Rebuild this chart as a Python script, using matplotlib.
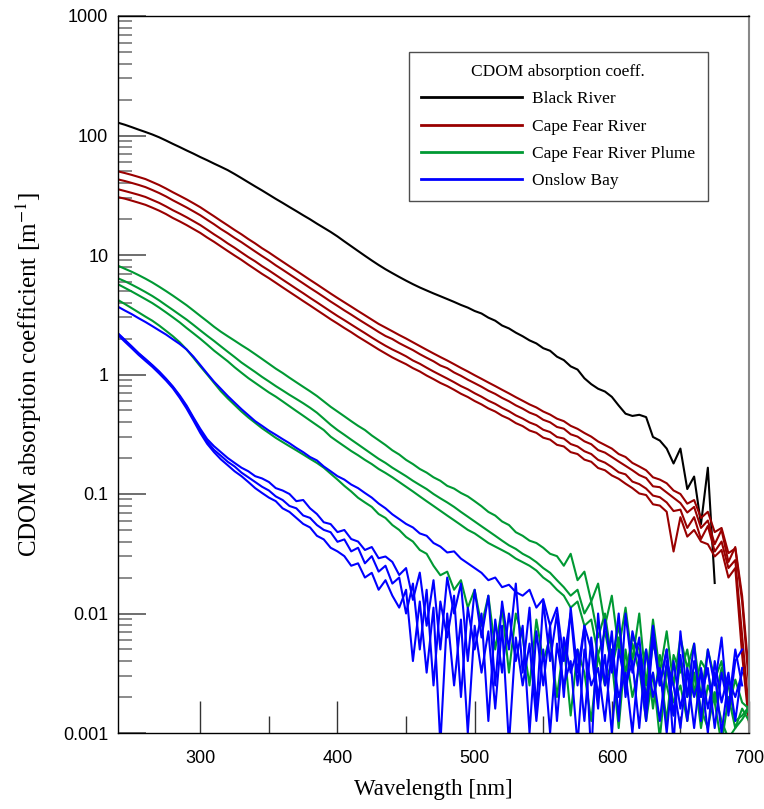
import numpy as np
import matplotlib
matplotlib.use("Agg")
import matplotlib.pyplot as plt
from matplotlib.lines import Line2D
from matplotlib.ticker import LogLocator, FixedLocator, NullFormatter

plt.rcParams['mathtext.fontset'] = 'stix'

# wavelength grid [nm], 5 nm steps
wl = np.arange(240, 701, 5)

# CDOM absorption coefficient [m-1] at 5 nm steps
black_river = [
    128, 123, 117.5, 112, 107, 102, 96.6, 90.8, 85.1, 80,
    75, 70.5, 66, 62.1, 58.2, 54.7, 51.3, 47.6, 44, 40.6,
    37.5, 34.7, 32, 29.5, 27.3, 25.2, 23.3, 21.5, 19.9, 18.3,
    16.9, 15.6, 14.3, 13.0, 11.85, 10.8, 9.85, 9.0, 8.25, 7.6,
    7.05, 6.55, 6.1, 5.7, 5.35, 5.05, 4.77, 4.52, 4.28, 4.05,
    3.82, 3.63, 3.40, 3.24, 2.99, 2.82, 2.57, 2.43, 2.24, 2.09,
    1.93, 1.82, 1.66, 1.58, 1.41, 1.32, 1.17, 1.10, 0.93, 0.83,
    0.76, 0.72, 0.65, 0.55, 0.47, 0.45, 0.46, 0.44, 0.30, 0.28,
    0.24, 0.18, 0.24, 0.11, 0.14, 0.056, 0.166, 0.018,
]

cape_fear_1 = [
    50.1, 48.5, 46.8, 45.0, 43.2, 40.8, 38.5, 36.0, 33.5, 31.3,
    29.2, 27.1, 25.1, 23.0, 21.1, 19.3, 17.7, 16.2, 14.9, 13.6,
    12.5, 11.4, 10.5, 9.6, 8.79, 8.05, 7.38, 6.76, 6.19, 5.68,
    5.20, 4.76, 4.37, 4.02, 3.70, 3.40, 3.13, 2.88, 2.65, 2.47,
    2.30, 2.14, 2.0, 1.86, 1.73, 1.61, 1.50, 1.40, 1.31, 1.22,
    1.135, 1.06, 0.986, 0.92, 0.857, 0.80, 0.745, 0.695, 0.646, 0.603,
    0.562, 0.53, 0.49, 0.462, 0.427, 0.407, 0.372, 0.351, 0.324, 0.302,
    0.275, 0.257, 0.24, 0.216, 0.204, 0.182, 0.17, 0.158, 0.138, 0.132,
    0.123, 0.107, 0.1, 0.083, 0.089, 0.063, 0.071, 0.048, 0.052, 0.032,
    0.035, 0.0126, 0.0025,
]
cape_fear_2 = [
    42.9, 41.6, 40.1, 38.6, 37.0, 35.0, 33.0, 30.9, 28.7, 26.8,
    25.0, 23.2, 21.5, 19.7, 18.1, 16.5, 15.2, 13.9, 12.8, 11.7,
    10.7, 9.8, 9.0, 8.2, 7.53, 6.9, 6.32, 5.79, 5.30, 4.87,
    4.46, 4.08, 3.75, 3.44, 3.17, 2.91, 2.68, 2.47, 2.27, 2.10,
    1.98, 1.83, 1.71, 1.60, 1.48, 1.38, 1.29, 1.19, 1.13, 1.04,
    0.975, 0.905, 0.846, 0.79, 0.732, 0.688, 0.637, 0.597, 0.552, 0.518,
    0.48, 0.456, 0.418, 0.398, 0.364, 0.352, 0.316, 0.302, 0.276, 0.261,
    0.233, 0.222, 0.204, 0.187, 0.172, 0.158, 0.144, 0.136, 0.116, 0.114,
    0.103, 0.093, 0.084, 0.070, 0.078, 0.052, 0.06, 0.038, 0.05, 0.027,
    0.036, 0.014, 0.003,
]
cape_fear_3 = [
    35.5, 34.3, 33.1, 31.9, 30.6, 28.9, 27.3, 25.5, 23.7, 22.2,
    20.7, 19.2, 17.8, 16.3, 14.9, 13.7, 12.5, 11.5, 10.5, 9.6,
    8.85, 8.07, 7.43, 6.8, 6.22, 5.7, 5.22, 4.79, 4.38, 4.02,
    3.68, 3.37, 3.09, 2.85, 2.62, 2.41, 2.22, 2.04, 1.88, 1.74,
    1.62, 1.52, 1.42, 1.31, 1.23, 1.14, 1.06, 0.99, 0.925, 0.862,
    0.80, 0.752, 0.697, 0.652, 0.604, 0.568, 0.526, 0.493, 0.455, 0.428,
    0.397, 0.377, 0.345, 0.33, 0.3, 0.291, 0.262, 0.25, 0.228, 0.216,
    0.193, 0.183, 0.168, 0.152, 0.146, 0.127, 0.121, 0.111, 0.097, 0.094,
    0.085, 0.072, 0.074, 0.052, 0.064, 0.042, 0.054, 0.033, 0.040, 0.024,
    0.028, 0.0065, 0.0015,
]
cape_fear_4 = [
    30.5, 29.6, 28.5, 27.4, 26.3, 24.9, 23.5, 22.0, 20.4, 19.1,
    17.8, 16.5, 15.3, 14.0, 12.9, 11.8, 10.8, 9.9, 9.1, 8.3,
    7.6, 6.95, 6.4, 5.86, 5.36, 4.91, 4.5, 4.12, 3.78, 3.46,
    3.17, 2.9, 2.67, 2.45, 2.26, 2.07, 1.91, 1.76, 1.62, 1.5,
    1.39, 1.3, 1.22, 1.13, 1.06, 0.98, 0.915, 0.85, 0.80, 0.745,
    0.69, 0.648, 0.60, 0.562, 0.52, 0.49, 0.452, 0.426, 0.392, 0.37,
    0.34, 0.325, 0.296, 0.285, 0.258, 0.25, 0.224, 0.216, 0.194, 0.186,
    0.165, 0.158, 0.143, 0.134, 0.122, 0.112, 0.101, 0.098, 0.082, 0.080,
    0.071, 0.033, 0.064, 0.044, 0.050, 0.040, 0.038, 0.030, 0.034, 0.02,
    0.024, 0.0045, 0.0012,
]

plume_1 = [
    8.13, 7.67, 7.24, 6.79, 6.34, 5.89, 5.43, 4.99, 4.57, 4.17,
    3.80, 3.43, 3.09, 2.79, 2.51, 2.28, 2.09, 1.92, 1.76, 1.62,
    1.48, 1.35, 1.23, 1.12, 1.03, 0.94, 0.861, 0.789, 0.724, 0.661,
    0.596, 0.537, 0.49, 0.447, 0.407, 0.372, 0.343, 0.309, 0.282, 0.257,
    0.232, 0.214, 0.193, 0.178, 0.162, 0.151, 0.138, 0.129, 0.117, 0.111,
    0.102, 0.0955, 0.087, 0.079, 0.0708, 0.066, 0.0589, 0.055, 0.0479, 0.0447,
    0.0407, 0.0389, 0.0355, 0.0316, 0.0302, 0.0251, 0.0316, 0.019, 0.0224, 0.0126,
    0.0178, 0.0079, 0.0141, 0.005, 0.0112, 0.004, 0.01, 0.0025, 0.0089, 0.0032,
    0.0071, 0.0025, 0.0063, 0.0035, 0.0056, 0.002, 0.005, 0.0028, 0.004, 0.0016,
    0.0028, 0.0018, 0.0016,
]
plume_2 = [
    6.38, 6.03, 5.65, 5.27, 4.90, 4.54, 4.17, 3.80, 3.47, 3.16,
    2.88, 2.60, 2.34, 2.11, 1.91, 1.72, 1.55, 1.40, 1.26, 1.15,
    1.05, 0.955, 0.875, 0.80, 0.736, 0.676, 0.624, 0.575, 0.527, 0.479,
    0.427, 0.38, 0.343, 0.313, 0.285, 0.26, 0.237, 0.216, 0.197, 0.182,
    0.166, 0.153, 0.141, 0.129, 0.119, 0.11, 0.10, 0.092, 0.085, 0.078,
    0.0708, 0.0646, 0.0589, 0.0537, 0.049, 0.0447, 0.0407, 0.0372, 0.0347, 0.0316,
    0.0295, 0.0269, 0.024, 0.0219, 0.019, 0.0166, 0.0141, 0.0158, 0.01, 0.0126,
    0.0063, 0.01, 0.004, 0.0079, 0.0032, 0.0063, 0.005, 0.002, 0.0056, 0.0035,
    0.00126, 0.0045, 0.0032, 0.005, 0.0022, 0.004, 0.0032, 0.0018, 0.0035, 0.0025,
    0.00126, 0.0014, 0.00166,
]
plume_3 = [
    5.69, 5.31, 4.95, 4.60, 4.27, 3.96, 3.63, 3.31, 3.01, 2.73,
    2.45, 2.21, 1.99, 1.78, 1.585, 1.43, 1.29, 1.15, 1.035, 0.933,
    0.851, 0.776, 0.708, 0.653, 0.596, 0.543, 0.495, 0.452, 0.412, 0.376,
    0.343, 0.302, 0.275, 0.251, 0.229, 0.211, 0.193, 0.178, 0.162, 0.15,
    0.138, 0.126, 0.115, 0.105, 0.0955, 0.087, 0.0794, 0.0724, 0.066, 0.0603,
    0.055, 0.0501, 0.0468, 0.0427, 0.0389, 0.0363, 0.0339, 0.0316, 0.0288, 0.0269,
    0.0251, 0.0229, 0.02, 0.0182, 0.0158, 0.0141, 0.0112, 0.0126, 0.0079, 0.0089,
    0.0045, 0.0071, 0.0035, 0.0063, 0.0025, 0.0056, 0.0032, 0.005, 0.0016, 0.0045,
    0.0025, 0.0014, 0.004, 0.002, 0.0032, 0.0011, 0.0025, 0.0018, 0.0008, 0.002,
    0.0011, 0.0016, 0.00126,
]
plume_4 = [
    4.2, 3.89, 3.59, 3.31, 3.05, 2.82, 2.57, 2.32, 2.09, 1.86,
    1.62, 1.38, 1.17, 1.0, 0.851, 0.724, 0.631, 0.556, 0.49, 0.437,
    0.394, 0.355, 0.324, 0.295, 0.272, 0.251, 0.232, 0.214, 0.197, 0.182,
    0.166, 0.148, 0.132, 0.117, 0.105, 0.093, 0.085, 0.078, 0.068, 0.063,
    0.055, 0.05, 0.0437, 0.04, 0.034, 0.0316, 0.0251, 0.0209, 0.0224, 0.0158,
    0.019, 0.0112, 0.0158, 0.0079, 0.0141, 0.005, 0.0112, 0.0032, 0.01, 0.0063,
    0.0025, 0.0089, 0.004, 0.0063, 0.002, 0.0056, 0.0014, 0.005, 0.0032, 0.00126,
    0.0045, 0.0025, 0.004, 0.0011, 0.005, 0.002, 0.0035, 0.00126, 0.0032, 0.0009,
    0.0035, 0.0018, 0.0025, 0.00126, 0.0032, 0.0016, 0.0011, 0.0022, 0.00126, 0.0009,
    0.0011, 0.0013, 0.0016,
]

onslow_1 = [
    3.69, 3.43, 3.2, 2.96, 2.75, 2.54, 2.34, 2.16, 1.97, 1.8,
    1.62, 1.41, 1.2, 1.02, 0.871, 0.759, 0.661, 0.582, 0.513, 0.457,
    0.407, 0.372, 0.339, 0.313, 0.288, 0.266, 0.243, 0.224, 0.204, 0.191,
    0.17, 0.155, 0.141, 0.132, 0.12, 0.112, 0.102, 0.0933, 0.0832, 0.0759,
    0.0676, 0.0617, 0.0562, 0.0525, 0.0468, 0.0447, 0.0389, 0.0363, 0.0324, 0.0331,
    0.0288, 0.0263, 0.024, 0.0219, 0.019, 0.02, 0.0166, 0.0174, 0.0151, 0.0141,
    0.0158, 0.0112, 0.0132, 0.0079, 0.0112, 0.004, 0.01, 0.0025, 0.0079, 0.005,
    0.0016, 0.0089, 0.0032, 0.01, 0.002, 0.0071, 0.004, 0.00126, 0.0063, 0.0025,
    0.005, 0.0014, 0.0045, 0.00126, 0.004, 0.002, 0.0035, 0.0011, 0.0032, 0.0016,
    0.005, 0.0025,
]
onslow_2 = [
    2.21, 1.95, 1.72, 1.51, 1.35, 1.20, 1.06, 0.923, 0.794, 0.668,
    0.55, 0.437, 0.351, 0.288, 0.251, 0.224, 0.2, 0.182, 0.166, 0.155,
    0.141, 0.135, 0.126, 0.112, 0.107, 0.1, 0.0871, 0.0891, 0.0759, 0.068,
    0.058, 0.056, 0.048, 0.05, 0.042, 0.04, 0.034, 0.036, 0.029, 0.03,
    0.027, 0.021, 0.024, 0.013, 0.022, 0.0079, 0.019, 0.005, 0.02, 0.01,
    0.0178, 0.004, 0.0158, 0.0063, 0.0141, 0.0025, 0.0126, 0.005, 0.0178, 0.0032,
    0.0112, 0.0016, 0.0126, 0.004, 0.01, 0.002, 0.0112, 0.0032, 0.0079, 0.00063,
    0.01, 0.0025, 0.0071, 0.00126, 0.01, 0.0032, 0.0063, 0.0016, 0.0079, 0.0025,
    0.005, 0.0008, 0.0071, 0.002, 0.0056, 0.00126, 0.005, 0.0025, 0.0063, 0.0014,
    0.004, 0.005,
]
onslow_3 = [
    2.19, 1.93, 1.70, 1.50, 1.33, 1.19, 1.05, 0.912, 0.785, 0.653,
    0.537, 0.427, 0.339, 0.275, 0.234, 0.209, 0.186, 0.17, 0.151, 0.138,
    0.126, 0.115, 0.107, 0.0955, 0.0891, 0.0794, 0.0759, 0.0661, 0.0631, 0.055,
    0.0501, 0.0479, 0.0398, 0.0417, 0.0331, 0.0355, 0.0263, 0.0302, 0.0224, 0.0251,
    0.0178, 0.02, 0.01, 0.0178, 0.005, 0.0158, 0.0025, 0.0126, 0.0063, 0.0141,
    0.002, 0.0112, 0.005, 0.01, 0.00126, 0.0089, 0.0032, 0.01, 0.004, 0.0079,
    0.001, 0.0071, 0.0025, 0.0079, 0.00126, 0.0063, 0.0032, 0.005, 0.00126, 0.0063,
    0.002, 0.0045, 0.001, 0.005, 0.0025, 0.004, 0.0011, 0.005, 0.002, 0.0035,
    0.001, 0.004, 0.0016, 0.0032, 0.0011, 0.0035, 0.0016, 0.0032, 0.001, 0.0028,
    0.002, 0.0032,
]
onslow_4 = [
    2.14, 1.88, 1.66, 1.46, 1.30, 1.16, 1.02, 0.891, 0.767, 0.638,
    0.519, 0.412, 0.324, 0.263, 0.224, 0.195, 0.174, 0.155, 0.141, 0.126,
    0.112, 0.102, 0.0933, 0.0871, 0.0759, 0.0708, 0.0631, 0.0562, 0.0525, 0.0447,
    0.0417, 0.0355, 0.0331, 0.0302, 0.0251, 0.0263, 0.02, 0.0219, 0.0158, 0.019,
    0.0141, 0.0112, 0.0158, 0.004, 0.0126, 0.0032, 0.0112, 0.0008, 0.01, 0.0025,
    0.0089, 0.001, 0.0079, 0.0032, 0.0071, 0.0016, 0.0079, 0.0008, 0.0063, 0.0025,
    0.0056, 0.00126, 0.005, 0.001, 0.0056, 0.0025, 0.004, 0.0008, 0.005, 0.0025,
    0.0035, 0.00126, 0.005, 0.002, 0.0032, 0.001, 0.0045, 0.002, 0.0032, 0.00126,
    0.004, 0.0025, 0.0011, 0.0035, 0.002, 0.0032, 0.001, 0.004, 0.0018, 0.0032,
    0.00126, 0.0035,
]

groups = [
    ("Black River", "#000000", [black_river]),
    ("Cape Fear River", "#990000", [cape_fear_1, cape_fear_2, cape_fear_3, cape_fear_4]),
    ("Cape Fear River Plume", "#009933", [plume_1, plume_2, plume_3, plume_4]),
    ("Onslow Bay", "#0000ff", [onslow_1, onslow_2, onslow_3, onslow_4]),
]

serif = ['Liberation Serif', 'DejaVu Serif']
sans = ['Liberation Sans', 'DejaVu Sans']

fig = plt.figure(figsize=(7.64, 8.09), dpi=100)
ax = fig.add_axes([118 / 764, 76 / 809, 631 / 764, 717 / 809])

for name, color, series in groups:
    for s in series:
        ax.plot(wl[:len(s)], s, color=color, lw=1.5)

ax.set_yscale('log')
ax.set_xlim(240, 700)
ax.set_ylim(0.001, 1000)

ax.xaxis.set_major_locator(FixedLocator([300, 400, 500, 600, 700]))
ax.xaxis.set_minor_locator(FixedLocator([350, 450, 550, 650]))
ax.yaxis.set_minor_locator(LogLocator(base=10, subs=np.arange(2, 10), numticks=10))
ax.yaxis.set_minor_formatter(NullFormatter())
ax.set_yticks([0.001, 0.01, 0.1, 1, 10, 100, 1000])
ax.set_yticklabels(['0.001', '0.01', '0.1', '1', '10', '100', '1000'])

ax.tick_params(axis='x', which='major', direction='in', length=23, width=1,
               color='#333333', top=False, pad=12)
ax.tick_params(axis='x', which='minor', direction='in', length=12, width=1,
               color='#333333', top=False)
ax.tick_params(axis='y', which='major', direction='in', length=20, width=1.2,
               color='#555555', right=False, pad=7)
ax.tick_params(axis='y', which='minor', direction='in', length=10, width=1.2,
               color='#777777', right=False)
for lab in ax.get_xticklabels() + ax.get_yticklabels():
    lab.set_family(sans)
    lab.set_fontsize(13)

for side in ['left', 'bottom', 'top']:
    ax.spines[side].set_color('black')
    ax.spines[side].set_linewidth(1.0)
ax.spines['right'].set_color('#888888')
ax.spines['right'].set_linewidth(1.5)

ax.set_xlabel('Wavelength [nm]', family=serif, fontsize=16.5, labelpad=9)
ax.set_ylabel('CDOM absorption coefficient [m$^{-1}$]', family=serif,
              fontsize=18, labelpad=14)

handles = [Line2D([0], [0], color=c, lw=2) for _, c, _ in groups]
labels = [n for n, _, _ in groups]
leg = ax.legend(handles, labels, title='CDOM absorption coeff.',
                loc='upper left', bbox_to_anchor=(0.4612, 0.9498),
                prop={'family': serif, 'size': 12.5},
                title_fontproperties={'family': serif, 'size': 12.5},
                frameon=True, fancybox=False, edgecolor='#222222',
                handlelength=5.8, handletextpad=0.6, labelspacing=0.64,
                borderpad=0.7, borderaxespad=0)
leg.get_frame().set_linewidth(1.0)

fig.savefig('out.png', dpi=100)
